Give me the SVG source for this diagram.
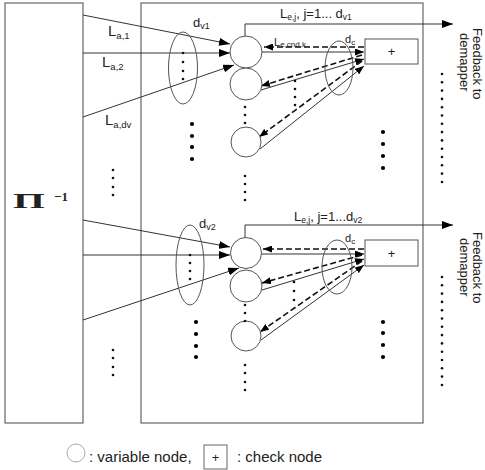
<svg xmlns="http://www.w3.org/2000/svg" width="485" height="470" viewBox="0 0 485 470">
<defs>
<style>
.box{fill:none;stroke:#666;stroke-width:1.2}
.ln{fill:none;stroke:#333;stroke-width:1}
.dash{fill:none;stroke:#111;stroke-width:1.6;stroke-dasharray:6,3}
.ell{fill:none;stroke:#555;stroke-width:1}
.vn{fill:#fff;stroke:#555;stroke-width:1}
.cn{fill:#fff;stroke:#555;stroke-width:1}
.t{font-family:"Liberation Sans",Arial,sans-serif;fill:#222}
.sd{fill:#111}
.bd{fill:#000}
</style>
<marker id="ar" markerUnits="userSpaceOnUse" markerWidth="11" markerHeight="8" refX="11" refY="4" orient="auto"><path d="M0,0 L11,4 L0,8 z" fill="#000"/></marker>
<marker id="ars" markerUnits="userSpaceOnUse" markerWidth="9" markerHeight="7" refX="9" refY="3.5" orient="auto"><path d="M0,0 L9,3.5 L0,7 z" fill="#000"/></marker>
</defs>
<rect width="485" height="470" fill="#fff"/>

<g id="deinterleaver">
<rect class="box" x="5" y="3" width="78" height="420"/>
<text font-weight="bold" font-size="21" transform="translate(13,208) scale(1.95,1)" style="font-family:'Liberation Serif',serif" fill="#222">Π</text>
<text x="54" y="201" font-size="13" font-weight="bold" style="font-family:'Liberation Serif',serif" fill="#222">−1</text>
</g>

<g id="decoder-box">
<rect class="box" x="141" y="3" width="282" height="420"/>
</g>

<g id="connectors">
<line class="ln" x1="83" y1="15" x2="230" y2="44" marker-end="url(#ar)"/>
<line class="ln" x1="83" y1="53" x2="230" y2="53" marker-end="url(#ar)"/>
<line class="ln" x1="83" y1="117" x2="234" y2="65" marker-end="url(#ar)"/>
<line class="ln" x1="83" y1="220" x2="230" y2="247" marker-end="url(#ar)"/>
<line class="ln" x1="83" y1="255" x2="230" y2="255" marker-end="url(#ar)"/>
<line class="ln" x1="83" y1="320" x2="239" y2="268" marker-end="url(#ar)"/>

<polyline class="ln" points="245,36 245,24 453,24" marker-end="url(#ar)"/>
<polyline class="ln" points="245,238 245,225 453,225" marker-end="url(#ar)"/>

<line class="ln" x1="262" y1="52" x2="364" y2="52" marker-end="url(#ars)"/>
<line class="dash" x1="364" y1="47" x2="264" y2="47" marker-end="url(#ars)"/>
<line class="ln" x1="261" y1="90" x2="364" y2="59" marker-end="url(#ars)"/>
<line class="dash" x1="362" y1="55" x2="261" y2="86" marker-end="url(#ars)"/>
<line class="ln" x1="260" y1="149" x2="364" y2="66" marker-end="url(#ars)"/>
<line class="dash" x1="362" y1="61" x2="259" y2="137" marker-end="url(#ars)"/>

<line class="ln" x1="262" y1="254" x2="364" y2="254" marker-end="url(#ars)"/>
<line class="dash" x1="364" y1="249" x2="263" y2="249" marker-end="url(#ars)"/>
<line class="ln" x1="262" y1="290" x2="364" y2="259" marker-end="url(#ars)"/>
<line class="dash" x1="362" y1="255" x2="262" y2="283" marker-end="url(#ars)"/>
<line class="ln" x1="261" y1="340" x2="364" y2="265" marker-end="url(#ars)"/>
<line class="dash" x1="362" y1="261" x2="260" y2="332" marker-end="url(#ars)"/>
</g>

<g id="ellipses">
<ellipse class="ell" cx="183" cy="68" rx="14.5" ry="36"/>
<ellipse class="ell" cx="190" cy="265" rx="14" ry="40"/>
<ellipse class="ell" cx="339" cy="68" rx="14" ry="27"/>
<ellipse class="ell" cx="337" cy="267" rx="15" ry="27"/>
</g>

<g id="vn1-1"><circle class="vn" cx="246" cy="52" r="16"/></g>
<g id="vn1-2"><circle class="vn" cx="246" cy="84" r="16"/></g>
<g id="vn1-3"><circle class="vn" cx="246" cy="142" r="15"/></g>
<g id="vn2-1"><circle class="vn" cx="246" cy="253" r="15.5"/></g>
<g id="vn2-2"><circle class="vn" cx="246" cy="286" r="16"/></g>
<g id="vn2-3"><circle class="vn" cx="246" cy="336" r="15"/></g>

<g id="cn1"><rect class="cn" x="365" y="39" width="53" height="25"/><text class="t" x="391.5" y="56" font-size="13" text-anchor="middle">+</text></g>
<g id="cn2"><rect class="cn" x="365" y="240" width="53" height="26"/><text class="t" x="391.5" y="258" font-size="13" text-anchor="middle">+</text></g>

<g id="labels">
<text class="t" x="108" y="36" font-size="15">L<tspan font-size="9.5" dy="3">a,1</tspan></text>
<text class="t" x="102" y="67" font-size="15">L<tspan font-size="9.5" dy="3">a,2</tspan></text>
<text class="t" x="105" y="125" font-size="15">L<tspan font-size="9.5" dy="3">a,dv</tspan></text>
<text class="t" x="193" y="27" font-size="13">d<tspan font-size="9" dy="2">v1</tspan></text>
<text class="t" x="199" y="228" font-size="13">d<tspan font-size="9" dy="2">v2</tspan></text>
<text class="t" x="345" y="43" font-size="11">d<tspan font-size="8" dy="2">c</tspan></text>
<text class="t" x="345" y="242" font-size="11">d<tspan font-size="8" dy="2">c</tspan></text>
<text class="t" x="274" y="46" font-size="11">L<tspan font-size="8" dy="1">e,cnd,k</tspan></text>
<text class="t" x="280" y="18" font-size="13">L<tspan font-size="8.5" dy="2">e,j</tspan><tspan dy="-2">, j=1... d</tspan><tspan font-size="8.5" dy="2">v1</tspan></text>
<text class="t" x="294" y="221" font-size="13">L<tspan font-size="8.5" dy="2">e,j</tspan><tspan dy="-2">, j=1...d</tspan><tspan font-size="8.5" dy="2">v2</tspan></text>
<text class="t" font-size="13" transform="translate(473,28) rotate(90)">Feedback to</text>
<text class="t" font-size="13" transform="translate(460,33) rotate(90)">demapper</text>
<text class="t" font-size="13" transform="translate(473,232) rotate(90)">Feedback to</text>
<text class="t" font-size="13" transform="translate(460,238) rotate(90)">demapper</text>
</g>

<g id="dots">
<g class="sd">
<circle cx="183" cy="53" r="1.3"/><circle cx="183" cy="62" r="1.3"/><circle cx="183" cy="71" r="1.3"/><circle cx="183" cy="79" r="1.3"/>
<circle cx="190" cy="255" r="1.3"/><circle cx="190" cy="263" r="1.3"/><circle cx="190" cy="271" r="1.3"/><circle cx="190" cy="279" r="1.3"/>
<circle cx="113" cy="170" r="1.3"/><circle cx="113" cy="178" r="1.3"/><circle cx="113" cy="187" r="1.3"/><circle cx="113" cy="195" r="1.3"/>
<circle cx="113" cy="350" r="1.3"/><circle cx="113" cy="358" r="1.3"/><circle cx="113" cy="367" r="1.3"/><circle cx="113" cy="375" r="1.3"/>
<circle cx="245" cy="107" r="1.3"/><circle cx="245" cy="115" r="1.3"/><circle cx="245" cy="123" r="1.3"/>
<circle cx="245" cy="176" r="1.3"/><circle cx="245" cy="184" r="1.3"/><circle cx="245" cy="192" r="1.3"/><circle cx="245" cy="200" r="1.3"/>
<circle cx="245" cy="305" r="1.3"/><circle cx="245" cy="313" r="1.3"/><circle cx="245" cy="321" r="1.3"/>
<circle cx="245" cy="365" r="1.3"/><circle cx="245" cy="373" r="1.3"/><circle cx="245" cy="382" r="1.3"/><circle cx="245" cy="390" r="1.3"/>
<circle cx="295" cy="81" r="1.3"/><circle cx="295" cy="89" r="1.3"/><circle cx="295" cy="97" r="1.3"/><circle cx="295" cy="105" r="1.3"/>
<circle cx="294" cy="282" r="1.3"/><circle cx="294" cy="291" r="1.3"/><circle cx="294" cy="300" r="1.3"/>
<circle cx="442" cy="74" r="1.3"/><circle cx="442" cy="82.3" r="1.3"/><circle cx="442" cy="90.6" r="1.3"/><circle cx="442" cy="98.9" r="1.3"/><circle cx="442" cy="107.2" r="1.3"/><circle cx="442" cy="115.5" r="1.3"/><circle cx="442" cy="123.8" r="1.3"/><circle cx="442" cy="132.1" r="1.3"/><circle cx="442" cy="140.4" r="1.3"/><circle cx="442" cy="148.7" r="1.3"/><circle cx="442" cy="157" r="1.3"/><circle cx="442" cy="165.3" r="1.3"/><circle cx="442" cy="173.6" r="1.3"/><circle cx="442" cy="182" r="1.3"/>
<circle cx="442" cy="277" r="1.3"/><circle cx="442" cy="285.3" r="1.3"/><circle cx="442" cy="293.6" r="1.3"/><circle cx="442" cy="301.9" r="1.3"/><circle cx="442" cy="310.2" r="1.3"/><circle cx="442" cy="318.5" r="1.3"/><circle cx="442" cy="326.8" r="1.3"/><circle cx="442" cy="335.1" r="1.3"/><circle cx="442" cy="343.4" r="1.3"/><circle cx="442" cy="351.7" r="1.3"/><circle cx="442" cy="360" r="1.3"/><circle cx="442" cy="368.3" r="1.3"/><circle cx="442" cy="376.6" r="1.3"/><circle cx="442" cy="385" r="1.3"/>
</g>
<g class="bd">
<circle cx="192" cy="124" r="2.1"/><circle cx="192" cy="136" r="2.1"/><circle cx="192" cy="147" r="2.1"/><circle cx="192" cy="159" r="2.1"/>
<circle cx="196" cy="322" r="2.1"/><circle cx="196" cy="334" r="2.1"/><circle cx="196" cy="346" r="2.1"/><circle cx="196" cy="357" r="2.1"/>
<circle cx="383" cy="132" r="2.1"/><circle cx="383" cy="144" r="2.1"/><circle cx="383" cy="156" r="2.1"/><circle cx="383" cy="168" r="2.1"/>
<circle cx="383" cy="322" r="2.1"/><circle cx="383" cy="333" r="2.1"/><circle cx="383" cy="345" r="2.1"/><circle cx="383" cy="357" r="2.1"/>
</g>
</g>

<g id="legend">
<circle cx="76" cy="453" r="9" fill="#fff" stroke="#aaa" stroke-width="1"/>
<text class="t" x="89" y="462" font-size="15">: variable node,</text>
<rect x="204" y="445" width="23" height="24" fill="#fff" stroke="#666" stroke-width="1"/>
<text class="t" x="215.5" y="462" font-size="13" text-anchor="middle">+</text>
<text class="t" x="237" y="462" font-size="15">: check node</text>
</g>
</svg>
